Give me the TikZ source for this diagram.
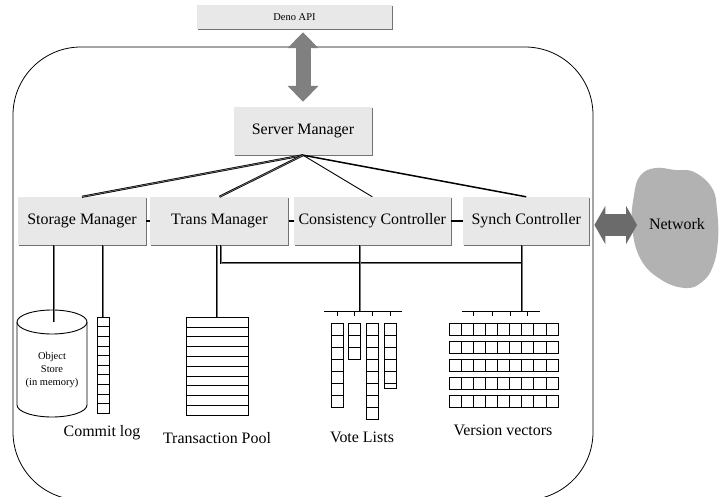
\documentclass[tikz,border=0pt]{standalone}
\usepackage{fontspec}
\setmainfont{Liberation Serif}
\usetikzlibrary{positioning,arrows.meta,shadows}

\tikzset{
	mgr/.style={fill=black!9, minimum height=48bp, inner xsep=2bp,
		font=\fontsize{16}{18}\selectfont,
		drop shadow={shadow xshift=1bp, shadow yshift=-1bp, fill=black!55, opacity=1}},
	dbl/.style={draw=black, double=black!55, double distance=0.7bp, line width=0.7bp},
	cell/.style={draw, line width=0.6bp},
	lbl/.style={font=\fontsize{16}{18}\selectfont, inner sep=0pt},
	small/.style={font=\fontsize{10.5}{13}\selectfont},
}

\begin{document}
\begin{tikzpicture}[x=1bp, y=-1bp]
	\useasboundingbox (0,0) rectangle (724,497);

	% server frame
	\draw[line width=0.8bp, rounded corners=68bp] (13,47) rectangle (593,500);

	\node[mgr, small, minimum width=195bp, minimum height=24bp]	(api)		at (294.5,17)	{Deno API};
	\node[mgr, minimum width=138bp]								(server)	at (303,131)	{Server Manager};
	\node[mgr, minimum width=128bp]								(store)		at (82,221)		{Storage Manager};
	\node[mgr, minimum width=138bp, right=4bp of store]			(trans)		{Trans Manager};
	\node[mgr, minimum width=157bp, right=5bp of trans]			(cons)		{Consistency Controller};
	\node[mgr, minimum width=126bp, right=12bp of cons]			(synch)		{Synch Controller};

	\draw[line width=15bp, draw=black!50,
		{Triangle[width=30bp,length=16bp]}-{Triangle[width=30bp,length=16bp]},
		shorten <=3bp, shorten >=5bp] (server.north |- api.south) -- (server.north);

	\draw[dbl]				(server.south) -- (store.north);
	\draw[dbl]				(server.south) -- (trans.north);
	\draw[line width=0.9bp]	(server.south) -- (cons.north);
	\draw[line width=1.5bp]	(server.south) -- (synch.north);

	\path[line width=2bp]
	(store)	edge	(trans)
	(trans)	edge	(cons)
	(cons)	edge	(synch);

	% object store
	\begin{scope}[dbl, line width=0.9bp, double distance=0.9bp]
		\filldraw[fill=white] (17,322) -- (17,405)
			arc[start angle=180, end angle=360, x radius=35bp, y radius=12bp] -- (87,322);
		\draw[fill=white] (52,322) ellipse [x radius=35bp, y radius=12bp];
	\end{scope}
	\node[small, align=center] (obj) at (52,370) {Object\\Store\\(in memory)};
	\coordinate (cyltop) at (54,322);
	\draw[dbl] (store.south -| cyltop) -- (cyltop);

	% commit log
	\node[cell, minimum width=12bp, minimum height=96bp, inner sep=0pt, anchor=north] (clog) at (103,317) {};
	\foreach \i in {1,...,9}
		\draw[cell] (97,317+\i*9.6) -- ++(12,0);
	\draw[dbl] (store.south -| clog.north) -- (clog.north);
	\node[lbl] (clogtxt) at (102,433) {Commit log};

	% transaction pool
	\node[cell, minimum width=62bp, minimum height=98bp, inner sep=0pt, anchor=north] (pool) at (217,317) {};
	\foreach \i in {1,...,9}
		\draw[cell] (186,317+\i*9.8) -- ++(62,0);
	\draw[dbl] (trans.south -| pool.north) -- (pool.north);
	\node[lbl] (pooltxt) at (217,438) {Transaction Pool};

	% bus from the trans manager
	\coordinate (vbus) at (360,311);
	\coordinate (xbus) at (522,311);
	\draw[dbl] ([xshift=1.5bp]trans.south) -- ++(0,18) -| (synch.south -| xbus);
	\draw[dbl] (cons.south -| vbus) -- (vbus);
	\draw[dbl] (synch.south -| xbus) -- (xbus);

	% vote lists
	\draw[line width=0.8bp] (324,311) -- (402,311);
	\foreach \x/\n in {331/7, 348/3, 366/8, 384/5}{
		\draw[line width=0.6bp] (\x+6,311) -- (\x+6,316);
		\foreach \k in {1,...,\n}
			\draw[cell] (\x,311+12*\k) rectangle ++(12,12);
	}
	\draw[cell] (384,383) rectangle ++(12,5);
	\node[lbl] (votetxt) at (362,437) {Vote Lists};

	% version vectors
	\draw[line width=0.8bp] (462,311) -- (540,311);
	\foreach \x in {473,492,510,527}
		\draw[line width=0.6bp] (\x,311) -- (\x,316);
	\foreach \r in {0,...,4}
		\foreach \c in {0,...,8}
			\draw[cell] (449+12.1*\c,323+18*\r) rectangle ++(12.1,12);
	\node[lbl] (verstxt) at (503,430) {Version vectors};

	% network
	\fill[black!30] plot[smooth cycle, tension=0.7] coordinates {
		(640,176) (655,168) (675,170) (694,172) (712,188) (717,210) (718,240)
		(713,266) (702,282) (685,288) (660,279) (640,258) (632,225) (634,195)};
	\node[lbl] (net) at (677,224) {Network};
	\coordinate (netin) at (637,225);
	\draw[line width=22bp, draw=black!58,
		{Triangle[width=38bp,length=11bp]}-{Triangle[width=38bp,length=11bp]},
		shorten <=5bp] (synch.east |- netin) -- (netin);
\end{tikzpicture}
\end{document}
